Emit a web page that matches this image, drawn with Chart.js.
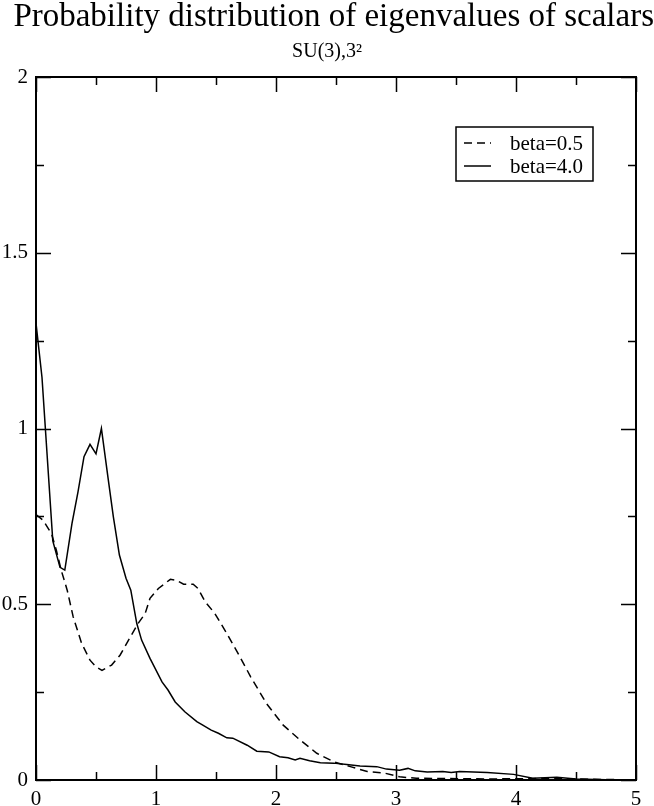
<!DOCTYPE html>
<html>
<head>
<meta charset="utf-8">
<script src="https://cdn.jsdelivr.net/npm/chart.js@4.4.1/dist/chart.umd.min.js"></script>
<style>
body{margin:0;background:#fff}
#wrap{width:654px;height:806px}
</style>
</head>
<body>
<div id="wrap"><canvas id="chart" width="654" height="806"></canvas></div>
<script>
// values
const beta05X = [0,0.06,0.13,0.17,0.21,0.26,0.31,0.38,0.45,0.5,0.55,0.63,0.7,0.78,0.85,0.91,0.95,1.02,1.12,1.17,1.23,1.31,1.35,1.41,1.49,1.59,1.7,1.79,1.92,2.06,2.2,2.34,2.48,2.62,2.76,2.9,3.03,3.17,3.45,3.8,4.2,4.5,5]
const beta05Y = [0.755,0.739,0.70,0.653,0.597,0.54,0.464,0.389,0.341,0.322,0.312,0.327,0.355,0.403,0.445,0.474,0.517,0.545,0.571,0.568,0.557,0.557,0.545,0.507,0.474,0.417,0.35,0.293,0.218,0.156,0.114,0.076,0.052,0.038,0.024,0.02,0.009,0.005,0.004,0.003,0.004,0.003,0]

const beta4X = [0,0.05,0.14,0.2,0.24,0.3,0.35,0.4,0.45,0.5,0.545,0.6,0.645,0.695,0.75,0.79,0.84,0.88,0.95,1.05,1.1,1.16,1.24,1.34,1.39,1.46,1.52,1.59,1.64,1.76,1.84,1.94,2.03,2.1,2.16,2.2,2.28,2.37,2.48,2.59,2.7,2.84,2.92,3.03,3.1,3.16,3.26,3.39,3.46,3.53,3.76,3.98,4.14,4.34,4.5,4.75,5]
const beta4Y = [1.30,1.145,0.68,0.605,0.597,0.73,0.82,0.92,0.955,0.928,1.0,0.86,0.748,0.64,0.574,0.54,0.445,0.398,0.346,0.279,0.256,0.222,0.194,0.166,0.156,0.142,0.133,0.12,0.119,0.099,0.082,0.08,0.066,0.063,0.057,0.062,0.055,0.049,0.048,0.044,0.04,0.038,0.031,0.028,0.033,0.026,0.023,0.024,0.021,0.024,0.021,0.016,0.005,0.008,0.003,0.001,0]

const xMajor = [0,1,2,3,4,5]
const xMinor = [0.5,1.5,2.5,3.5,4.5]
const yMajor = [0,0.5,1,1.5,2]
const yMinor = [0.25,0.75,1.25,1.75]

const serif = "'Liberation Serif', 'DejaVu Serif', serif"

const toPoints = (xs, ys) => xs.map((x, i) => ({x: x, y: ys[i]}))

// frame, inward ticks and legend box, like xmgrace
const framePlugin = {
    id: "frame",
    afterDraw(chart) {
        const ctx = chart.ctx
        const a = chart.chartArea
        const sx = chart.scales.x
        const sy = chart.scales.y
        ctx.save()
        ctx.strokeStyle = "#000"
        ctx.lineWidth = 1.5
        ctx.beginPath()
        const tick = (vals, len) => {
            vals.forEach(v => {
                const px = Math.round(sx.getPixelForValue(v)) + 0.5
                ctx.moveTo(px, a.bottom); ctx.lineTo(px, a.bottom - len)
                ctx.moveTo(px, a.top); ctx.lineTo(px, a.top + len)
            })
        }
        const tickY = (vals, len) => {
            vals.forEach(v => {
                const py = Math.round(sy.getPixelForValue(v)) + 0.5
                ctx.moveTo(a.left, py); ctx.lineTo(a.left + len, py)
                ctx.moveTo(a.right, py); ctx.lineTo(a.right - len, py)
            })
        }
        tick(xMajor, 15); tick(xMinor, 8)
        tickY(yMajor, 15); tickY(yMinor, 8)
        ctx.stroke()

        ctx.lineWidth = 2
        ctx.strokeRect(a.left, a.top, a.right - a.left, a.bottom - a.top)

        // legend
        const lx = 456, ly = 127, lw = 137, lh = 54
        ctx.lineWidth = 1.5
        ctx.strokeRect(lx, ly, lw, lh)
        ctx.font = "21px " + serif
        ctx.fillStyle = "#000"
        ctx.textBaseline = "middle"
        chart.data.datasets.forEach((ds, i) => {
            const yy = ly + 16 + i * 23
            ctx.beginPath()
            ctx.setLineDash(ds.borderDash || [])
            ctx.lineWidth = ds.borderWidth
            ctx.moveTo(lx + 8, yy); ctx.lineTo(lx + 35, yy)
            ctx.stroke()
            ctx.setLineDash([])
            ctx.fillText(ds.label, lx + 54, yy + 1)
        })
        ctx.restore()
    }
}

new Chart(document.getElementById("chart"), {
    type: "scatter",
    data: {
        datasets: [
            {
                label: "beta=0.5",
                data: toPoints(beta05X, beta05Y),
                showLine: true,
                borderColor: "#000",
                borderWidth: 1.5,
                borderDash: [8, 5],
                pointRadius: 0,
                tension: 0
            },
            {
                label: "beta=4.0",
                data: toPoints(beta4X, beta4Y),
                showLine: true,
                borderColor: "#000",
                borderWidth: 1.5,
                pointRadius: 0,
                tension: 0
            }
        ]
    },
    options: {
        responsive: false,
        animation: false,
        layout: {padding: 0},
        plugins: {
            legend: {display: false},
            tooltip: {enabled: false},
            title: {
                display: true,
                align: "end",
                text: "Probability distribution of eigenvalues of scalars",
                color: "#000",
                font: {family: serif, size: 33, weight: "normal", lineHeight: 1},
                padding: {top: 1, bottom: 4}
            },
            subtitle: {
                display: true,
                text: "SU(3),3\u00b2",
                color: "#000",
                font: {family: serif, size: 20, weight: "normal", lineHeight: 1},
                padding: {top: 4, bottom: 15}
            }
        },
        scales: {
            x: {
                type: "linear",
                min: 0, max: 5,
                grid: {display: false, drawTicks: false},
                border: {display: false},
                ticks: {stepSize: 1, color: "#000", padding: 7, font: {family: serif, size: 21}},
                afterFit: s => { s.height = 26 }
            },
            y: {
                type: "linear",
                min: 0, max: 2,
                grid: {display: false, drawTicks: false},
                border: {display: false},
                ticks: {stepSize: 0.5, color: "#000", padding: 8, font: {family: serif, size: 21},
                    callback: v => String(v)},
                afterFit: s => { s.width = 36 }
            },
            // empty right margin, keeps the plot at 36..636
            yRight: {
                type: "linear",
                position: "right",
                min: 0, max: 2,
                grid: {display: false, drawTicks: false},
                border: {display: false},
                ticks: {display: false},
                afterFit: s => { s.width = 18 }
            }
        }
    },
    plugins: [framePlugin]
})
</script>
</body>
</html>
